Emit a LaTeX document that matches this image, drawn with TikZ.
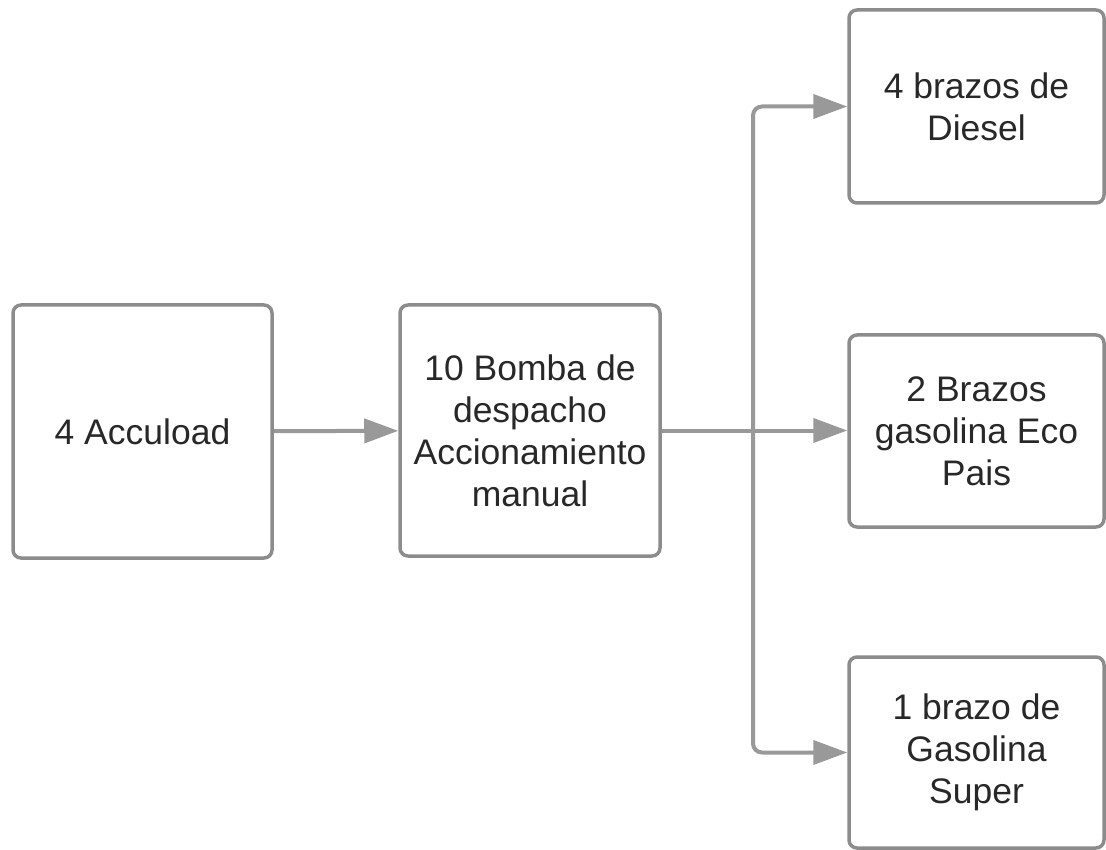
\documentclass[tikz,border=0pt]{standalone}
\usepackage{fontspec}
\setmainfont{Liberation Sans}
\usetikzlibrary{positioning,arrows.meta}
\definecolor{boxgray}{RGB}{140,140,140}
\definecolor{linegray}{RGB}{153,153,153}
\definecolor{textgray}{RGB}{40,40,40}

\begin{document}
\begin{tikzpicture}[x=1pt,y=-1pt,
    bloque/.style={draw=boxgray, line width=3.5pt, rounded corners=8pt, fill=white,
        text=textgray, align=center, font=\fontsize{35.5}{42}\selectfont},
    linea/.style={draw=linegray, line width=4pt, rounded corners=9pt},
    flecha/.style={linea, -{Triangle[length=34pt,width=24pt]}}]
    \useasboundingbox (0,0) rectangle (1106,850);

    % Entrada
    \node[bloque, minimum width=259pt, minimum height=253pt] (accuload) at (142.5,431.5) {4 Accuload};

    % Bombas
    \node[bloque, minimum width=260pt, minimum height=251pt] (bomba) at (530,430.5)
        {10 Bomba de\\despacho\\Accionamiento\\manual};

    % Brazos
    \node[bloque, minimum width=255pt, minimum height=193pt] (diesel) at (976.5,106.5)
        {4 brazos de\\Diesel};
    \node[bloque, minimum width=255pt, minimum height=192pt] (eco) at (976.5,431)
        {2 Brazos\\gasolina Eco\\Pais};
    \node[bloque, minimum width=255pt, minimum height=191pt] (super) at (976.5,752.5)
        {1 brazo de\\Gasolina\\Super};

    % Conexiones
    \coordinate (split) at (753,430.5);
    \draw[flecha] (accuload) -- (bomba);
    \draw[linea] (bomba.east) -- (split);
    \draw[flecha] (split) |- (diesel.west);
    \draw[flecha] (split) -- (eco.west |- split);
    \draw[flecha] (split) |- (super.west);
\end{tikzpicture}
\end{document}
